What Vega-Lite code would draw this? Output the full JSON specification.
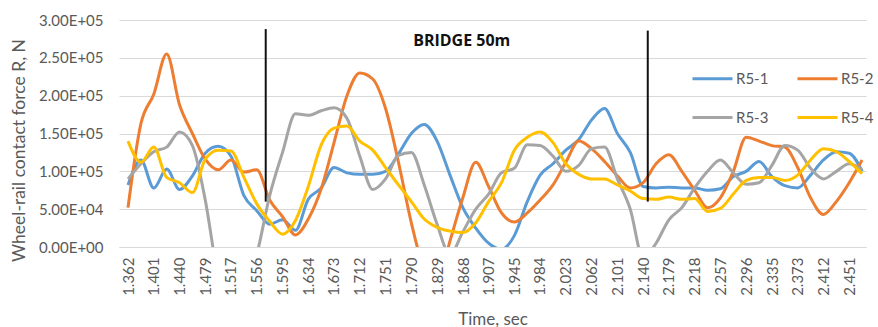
{
  "$schema": "https://vega.github.io/schema/vega-lite/v6.json",
  "width": 747,
  "height": 227,
  "autosize": {"type": "none"},
  "padding": {"left": 119, "top": 20, "right": 12, "bottom": 80},
  "background": "white",
  "config": {"view": {"stroke": null}, "font": "Lato"},
  "datasets": {
    "forces": [
      {"t": 1.3620, "R5-1": 82000, "R5-2": 52000, "R5-3": 90000, "R5-4": 140000},
      {"t": 1.3815, "R5-1": 115000, "R5-2": 163000, "R5-3": 110000, "R5-4": 112000},
      {"t": 1.4009, "R5-1": 78000, "R5-2": 202000, "R5-3": 126000, "R5-4": 132000},
      {"t": 1.4204, "R5-1": 103000, "R5-2": 255000, "R5-3": 132000, "R5-4": 92000},
      {"t": 1.4398, "R5-1": 76000, "R5-2": 188000, "R5-3": 152000, "R5-4": 85000},
      {"t": 1.4593, "R5-1": 94000, "R5-2": 150000, "R5-3": 134000, "R5-4": 72000},
      {"t": 1.4787, "R5-1": 124000, "R5-2": 116000, "R5-3": 62000, "R5-4": 116000},
      {"t": 1.4982, "R5-1": 133000, "R5-2": 102000, "R5-3": -40000, "R5-4": 128000},
      {"t": 1.5176, "R5-1": 120000, "R5-2": 115000, "R5-3": -90000, "R5-4": 127000},
      {"t": 1.5371, "R5-1": 68000, "R5-2": 99000, "R5-3": -60000, "R5-4": 92000},
      {"t": 1.5565, "R5-1": 48000, "R5-2": 102000, "R5-3": -10000, "R5-4": 57000},
      {"t": 1.5760, "R5-1": 30000, "R5-2": 62000, "R5-3": 68000, "R5-4": 34000},
      {"t": 1.5954, "R5-1": 36000, "R5-2": 40000, "R5-3": 125000, "R5-4": 17000},
      {"t": 1.6149, "R5-1": 22000, "R5-2": 16000, "R5-3": 176000, "R5-4": 35000},
      {"t": 1.6343, "R5-1": 63000, "R5-2": 37000, "R5-3": 174000, "R5-4": 80000},
      {"t": 1.6538, "R5-1": 78000, "R5-2": 77000, "R5-3": 180000, "R5-4": 135000},
      {"t": 1.6732, "R5-1": 105000, "R5-2": 138000, "R5-3": 184000, "R5-4": 157000},
      {"t": 1.6927, "R5-1": 98000, "R5-2": 200000, "R5-3": 170000, "R5-4": 160000},
      {"t": 1.7121, "R5-1": 96000, "R5-2": 230000, "R5-3": 120000, "R5-4": 140000},
      {"t": 1.7316, "R5-1": 96000, "R5-2": 222000, "R5-3": 76000, "R5-4": 128000},
      {"t": 1.7510, "R5-1": 100000, "R5-2": 183000, "R5-3": 90000, "R5-4": 105000},
      {"t": 1.7705, "R5-1": 123000, "R5-2": 112000, "R5-3": 121000, "R5-4": 82000},
      {"t": 1.7899, "R5-1": 150000, "R5-2": 32000, "R5-3": 125000, "R5-4": 60000},
      {"t": 1.8094, "R5-1": 162000, "R5-2": -30000, "R5-3": 82000, "R5-4": 37000},
      {"t": 1.8288, "R5-1": 140000, "R5-2": -50000, "R5-3": 30000, "R5-4": 26000},
      {"t": 1.8483, "R5-1": 95000, "R5-2": 8000, "R5-3": -10000, "R5-4": 21000},
      {"t": 1.8677, "R5-1": 52000, "R5-2": 65000, "R5-3": 20000, "R5-4": 19000},
      {"t": 1.8872, "R5-1": 25000, "R5-2": 112000, "R5-3": 50000, "R5-4": 32000},
      {"t": 1.9066, "R5-1": 5000, "R5-2": 80000, "R5-3": 70000, "R5-4": 60000},
      {"t": 1.9261, "R5-1": -3000, "R5-2": 45000, "R5-3": 98000, "R5-4": 85000},
      {"t": 1.9455, "R5-1": 15000, "R5-2": 33000, "R5-3": 104000, "R5-4": 128000},
      {"t": 1.9650, "R5-1": 60000, "R5-2": 45000, "R5-3": 135000, "R5-4": 145000},
      {"t": 1.9844, "R5-1": 95000, "R5-2": 62000, "R5-3": 134000, "R5-4": 152000},
      {"t": 2.0039, "R5-1": 110000, "R5-2": 82000, "R5-3": 120000, "R5-4": 138000},
      {"t": 2.0233, "R5-1": 128000, "R5-2": 112000, "R5-3": 100000, "R5-4": 110000},
      {"t": 2.0428, "R5-1": 142000, "R5-2": 140000, "R5-3": 108000, "R5-4": 96000},
      {"t": 2.0622, "R5-1": 168000, "R5-2": 130000, "R5-3": 130000, "R5-4": 90000},
      {"t": 2.0817, "R5-1": 183000, "R5-2": 113000, "R5-3": 132000, "R5-4": 90000},
      {"t": 2.1011, "R5-1": 150000, "R5-2": 94000, "R5-3": 90000, "R5-4": 82000},
      {"t": 2.1206, "R5-1": 125000, "R5-2": 78000, "R5-3": 50000, "R5-4": 74000},
      {"t": 2.1400, "R5-1": 80000, "R5-2": 85000, "R5-3": -15000, "R5-4": 64000},
      {"t": 2.1595, "R5-1": 78000, "R5-2": 110000, "R5-3": 5000, "R5-4": 63000},
      {"t": 2.1789, "R5-1": 79000, "R5-2": 122000, "R5-3": 36000, "R5-4": 66000},
      {"t": 2.1984, "R5-1": 78000, "R5-2": 100000, "R5-3": 52000, "R5-4": 63000},
      {"t": 2.2178, "R5-1": 78000, "R5-2": 75000, "R5-3": 78000, "R5-4": 64000},
      {"t": 2.2373, "R5-1": 75000, "R5-2": 52000, "R5-3": 100000, "R5-4": 47000},
      {"t": 2.2567, "R5-1": 77000, "R5-2": 65000, "R5-3": 115000, "R5-4": 51000},
      {"t": 2.2762, "R5-1": 93000, "R5-2": 100000, "R5-3": 98000, "R5-4": 70000},
      {"t": 2.2956, "R5-1": 100000, "R5-2": 145000, "R5-3": 83000, "R5-4": 88000},
      {"t": 2.3151, "R5-1": 113000, "R5-2": 140000, "R5-3": 85000, "R5-4": 92000},
      {"t": 2.3345, "R5-1": 93000, "R5-2": 134000, "R5-3": 108000, "R5-4": 92000},
      {"t": 2.3540, "R5-1": 81000, "R5-2": 132000, "R5-3": 134000, "R5-4": 88000},
      {"t": 2.3734, "R5-1": 78000, "R5-2": 105000, "R5-3": 128000, "R5-4": 95000},
      {"t": 2.3929, "R5-1": 95000, "R5-2": 65000, "R5-3": 104000, "R5-4": 115000},
      {"t": 2.4123, "R5-1": 115000, "R5-2": 43000, "R5-3": 90000, "R5-4": 130000},
      {"t": 2.4318, "R5-1": 126000, "R5-2": 60000, "R5-3": 100000, "R5-4": 126000},
      {"t": 2.4512, "R5-1": 124000, "R5-2": 85000, "R5-3": 110000, "R5-4": 113000},
      {"t": 2.4707, "R5-1": 100000, "R5-2": 115000, "R5-3": 102000, "R5-4": 97000}
    ],
    "markers": [
      {"t": 1.570, "lo": 60000, "hi": 288000},
      {"t": 2.147, "lo": 60000, "hi": 286000}
    ],
    "notes": [
      {"t": 1.866, "v": 272000, "label": "BRIDGE 50m"}
    ]
  },
  "layer": [
    {
      "data": {"name": "forces"},
      "transform": [{"fold": ["R5-1", "R5-2", "R5-3", "R5-4"], "as": ["series", "force"]}],
      "mark": {"type": "line", "interpolate": "monotone", "strokeWidth": 3, "clip": true},
      "encoding": {
        "x": {
          "field": "t", "type": "quantitative",
          "scale": {"domain": [1.3484, 2.4766], "nice": false, "zero": false},
          "axis": {
            "values": [1.362, 1.401, 1.44, 1.479, 1.517, 1.556, 1.595, 1.634, 1.673, 1.712, 1.751, 1.79, 1.829, 1.868, 1.907, 1.945, 1.984, 2.023, 2.062, 2.101, 2.14, 2.179, 2.218, 2.257, 2.296, 2.335, 2.373, 2.412, 2.451],
            "tickCount": 40,
            "format": ".3f",
            "labelAngle": -90,
            "labelFontSize": 15,
            "labelColor": "#595959",
            "labelPadding": 10,
            "labelOverlap": false,
            "labelBound": false,
            "labelFlush": false,
            "ticks": false,
            "grid": false,
            "domain": true,
            "domainColor": "#d9d9d9",
            "title": "Time, sec",
            "titleFontSize": 17,
            "titleFontWeight": "normal",
            "titleColor": "#595959",
            "titleY": 72,
            "titleBaseline": "middle"
          }
        },
        "y": {
          "field": "force", "type": "quantitative",
          "scale": {"domain": [0, 300000], "nice": false, "zero": false},
          "axis": {
            "values": [0, 50000, 100000, 150000, 200000, 250000, 300000],
            "tickCount": 10,
            "labelExpr": "datum.value == 0 ? '0.00E+00' : (datum.value < 100000 ? '5.00E+04' : format(datum.value / 100000, '.2f') + 'E+05')",
            "labelFontSize": 15,
            "labelColor": "#595959",
            "labelPadding": 16,
            "ticks": false,
            "domain": false,
            "grid": true,
            "gridColor": "#d9d9d9",
            "title": "Wheel-rail contact force R, N",
            "titleFontSize": 17.5,
            "titleFontWeight": "normal",
            "titleColor": "#595959",
            "titleX": -100,
            "titleY": 130,
            "titleBaseline": "middle",
            "titleAlign": "center"
          }
        },
        "color": {
          "field": "series", "type": "nominal",
          "scale": {"domain": ["R5-1", "R5-2", "R5-3", "R5-4"], "range": ["#5B9BD5", "#ED7D31", "#A5A5A5", "#FFC000"]},
          "legend": {
            "orient": "none",
            "legendX": 572,
            "legendY": 37,
            "direction": "horizontal",
            "columns": 2,
            "title": null,
            "symbolType": "stroke",
            "symbolSize": 1600,
            "symbolStrokeWidth": 3,
            "labelFontSize": 15,
            "labelColor": "#595959",
            "labelOffset": 2,
            "columnPadding": 22,
            "rowPadding": 9
          }
        }
      }
    },
    {
      "data": {"name": "markers"},
      "mark": {"type": "rule", "color": "#111111", "strokeWidth": 2},
      "encoding": {
        "x": {"field": "t", "type": "quantitative"},
        "y": {"field": "lo", "type": "quantitative"},
        "y2": {"field": "hi"}
      }
    },
    {
      "data": {"name": "notes"},
      "mark": {"type": "text", "fontWeight": "bold", "fontSize": 16, "font": "Open Sans", "color": "#111111", "align": "center", "baseline": "middle"},
      "encoding": {
        "x": {"field": "t", "type": "quantitative"},
        "y": {"field": "v", "type": "quantitative"},
        "text": {"field": "label"}
      }
    }
  ]
}
